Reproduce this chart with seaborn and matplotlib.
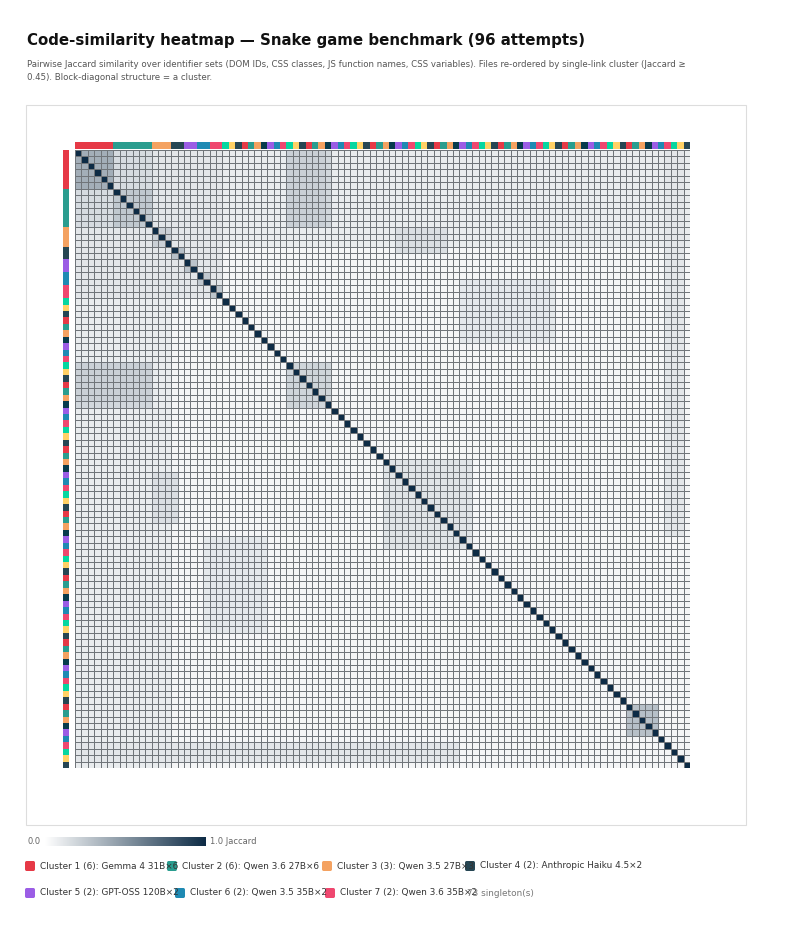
import numpy as np
import matplotlib
matplotlib.use("Agg")
import matplotlib.pyplot as plt
import matplotlib.patches as mpatches
from matplotlib.colors import LinearSegmentedColormap, ListedColormap
import seaborn as sns

N = 96
cluster_sizes = [6, 6, 3, 2, 2, 2, 2]
cluster_colors = ["#e63946", "#2a9d8f", "#f4a261", "#264653", "#9b5de5", "#1f8ab3", "#ef476f"]
cluster_within = [0.38, 0.26, 0.22, 0.30, 0.28, 0.26, 0.27]
cluster_labels = ["Cluster 1 (6): Gemma 4 31B×6", "Cluster 2 (6): Qwen 3.6 27B×6",
                  "Cluster 3 (3): Qwen 3.5 27B×3", "Cluster 4 (2): Anthropic Haiku 4.5×2",
                  "Cluster 5 (2): GPT-OSS 120B×2", "Cluster 6 (2): Qwen 3.5 35B×2",
                  "Cluster 7 (2): Qwen 3.6 35B×2"]
singleton_cycle = ["#06d6a0", "#ffd166", "#264653", "#e63946", "#2a9d8f", "#f4a261",
                   "#073b4c", "#9b5de5", "#1f8ab3", "#ef476f"]
baseline = 0.05
# (row_start, row_end, col_start, col_end, value)
bands = [
    (0, 12, 0, 12, 0.17),
    (0, 23, 0, 23, 0.12),
    (0, 96, 0, 15, 0.09),
    (0, 12, 33, 39, 0.22),
    (33, 40, 0, 12, 0.19),
    (33, 40, 33, 40, 0.20),
    (48, 62, 48, 62, 0.13),
    (50, 58, 12, 16, 0.15),
    (86, 91, 86, 91, 0.30),
    (92, 95, 0, 60, 0.12),
    (20, 30, 60, 75, 0.11),
]

M = np.full((N, N), baseline)
for r0, r1, c0, c1, v in bands:
    M[r0:r1, c0:c1] = np.maximum(M[r0:r1, c0:c1], v)
    M[c0:c1, r0:r1] = np.maximum(M[c0:c1, r0:r1], v)
start = 0
for s, w in zip(cluster_sizes, cluster_within):
    M[start:start + s, start:start + s] = w
    start += s
np.fill_diagonal(M, 1.0)

colors = []
for s, c in zip(cluster_sizes, cluster_colors):
    colors += [c] * s
i = 0
while len(colors) < N:
    colors.append(singleton_cycle[i % len(singleton_cycle)]); i += 1

W, H = 800, 927
fig = plt.figure(figsize=(W / 100, H / 100), dpi=100)
def ax_px(x0, y0, x1, y1):
    return fig.add_axes([x0 / W, 1 - y1 / H, (x1 - x0) / W, (y1 - y0) / H])

fig.text(27 / W, 1 - 40 / H, "Code-similarity heatmap — Snake game benchmark (96 attempts)",
         fontsize=10.8, fontweight="bold", va="center", color="#111")
fig.text(27 / W, 1 - 71 / H,
         "Pairwise Jaccard similarity over identifier sets (DOM IDs, CSS classes, JS function names, CSS variables). Files re-ordered by single-link cluster (Jaccard ≥\n0.45). Block-diagonal structure = a cluster.",
         fontsize=6.2, color="#555", va="center", linespacing=1.6)
fig.patches.append(mpatches.Rectangle((26 / W, 1 - 825 / H), 720 / W, 720 / H, transform=fig.transFigure,
                                      fill=False, edgecolor="#dddddd", linewidth=0.8))

cmap = LinearSegmentedColormap.from_list("j", ["#ffffff", "#0d2b45"], N=256)
ax = ax_px(75, 150, 690, 768)
sns.heatmap(M, ax=ax, cmap=cmap, vmin=0, vmax=1, cbar=False, linewidths=0.5,
            linecolor="#70757a", square=False, xticklabels=False, yticklabels=False)

cmap_s = ListedColormap(colors)
axt = ax_px(75, 142, 690, 149)
sns.heatmap(np.arange(N)[None, :], ax=axt, cmap=cmap_s, cbar=False, xticklabels=False, yticklabels=False)
axl = ax_px(63, 150, 69, 768)
sns.heatmap(np.arange(N)[:, None], ax=axl, cmap=cmap_s, cbar=False, xticklabels=False, yticklabels=False)

axc = ax_px(45, 837, 205, 846)
axc.imshow(np.linspace(0, 1, 256)[None, :], aspect="auto", cmap=cmap)
axc.axis("off")
fig.text(27 / W, 1 - 841 / H, "0.0", fontsize=6, color="#666", va="center")
fig.text(210 / W, 1 - 841 / H, "1.0 Jaccard", fontsize=6, color="#666", va="center")

pos = [(25, 866), (167, 866), (322, 866), (465, 866), (25, 893), (175, 893), (325, 893)]
for (x, y), c, lab in zip(pos, cluster_colors, cluster_labels):
    fig.patches.append(mpatches.FancyBboxPatch((x / W, 1 - (y + 5) / H), 10 / W, 10 / H,
                       boxstyle="round,pad=0,rounding_size=0.002", transform=fig.transFigure,
                       facecolor=c, edgecolor="none"))
    fig.text((x + 15) / W, 1 - y / H, lab, fontsize=6.4, color="#333", va="center")
fig.text(467 / W, 1 - 893 / H, "73 singleton(s)", fontsize=6.4, color="#777", va="center")

fig.savefig("out.png", dpi=100, facecolor="white")
